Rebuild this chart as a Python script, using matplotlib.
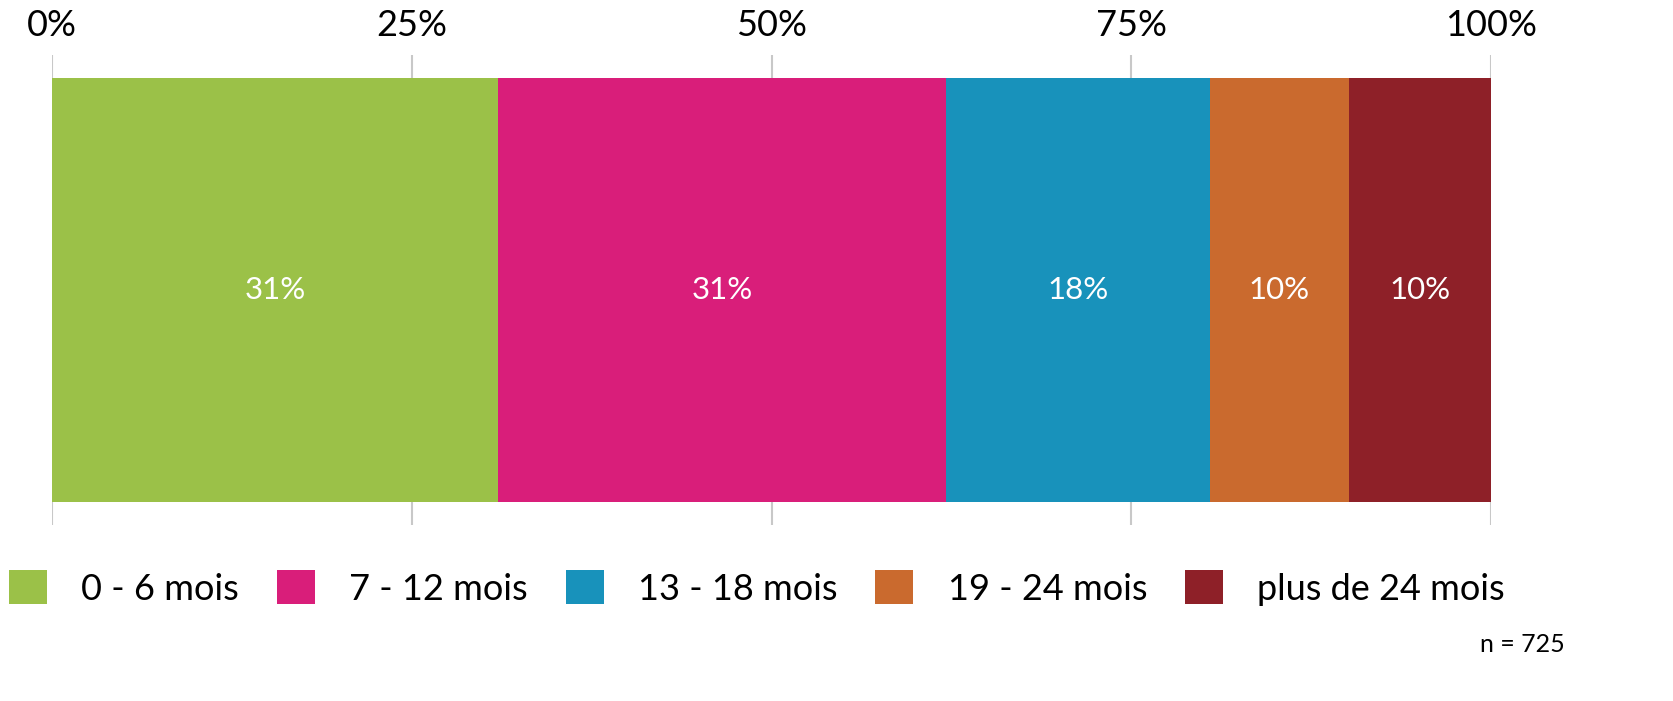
import matplotlib
matplotlib.use("Agg")
from matplotlib import pyplot as plt
from matplotlib.patches import Patch

plt.rcParams['font.family'] = ['Lato', 'DejaVu Sans']

# share of cases by duration (percent)
categories = ["0 - 6 mois", "7 - 12 mois", "13 - 18 mois", "19 - 24 mois", "plus de 24 mois"]
shares = [31.0, 31.1, 18.4, 9.6, 9.9]
colors = ["#9BC148", "#D91E7A", "#1892BB", "#CA6A2E", "#8E2028"]
tick_vals = [0, 25, 50, 75, 100]
n_total = 725

fig = plt.figure(figsize=(16.73, 7.01), dpi=100)
ax = fig.add_axes([52 / 1673, 1 - 525 / 701, (1491 - 52) / 1673, 470 / 701])

left = 0
for cat, val, col in zip(categories, shares, colors):
    ax.barh(0, val, left=left, height=0.904, color=col, zorder=3)
    ax.text(left + val / 2, 0, f"{round(val)}%", ha='center', va='center',
            color='white', fontsize=22.5, zorder=4)
    left += val

ax.set_xlim(0, 100)
ax.set_ylim(-0.5, 0.5)
ax.set_xticks(tick_vals)
ax.set_xticklabels([f"{t}%" for t in tick_vals], fontsize=26)
ax.xaxis.tick_top()
ax.tick_params(axis='x', length=0, pad=9)
ax.set_yticks([])
ax.grid(axis='x', color='#C8C8C8', linewidth=1.5, zorder=0)
for s in ax.spines.values():
    s.set_visible(False)

handles = [Patch(facecolor=c, edgecolor='none') for c in colors]
fig.legend(handles, categories, loc='center', bbox_to_anchor=(757 / 1673, 1 - 588 / 701),
           ncol=5, frameon=False, fontsize=26, handlelength=1.05, handleheight=1.05,
           handletextpad=0.95, columnspacing=1.05, borderaxespad=0, borderpad=0)

fig.text(1565 / 1673, 1 - 645 / 701, f"n = {n_total}", ha='right', va='center', fontsize=18)

fig.savefig("out.png", dpi=100)
